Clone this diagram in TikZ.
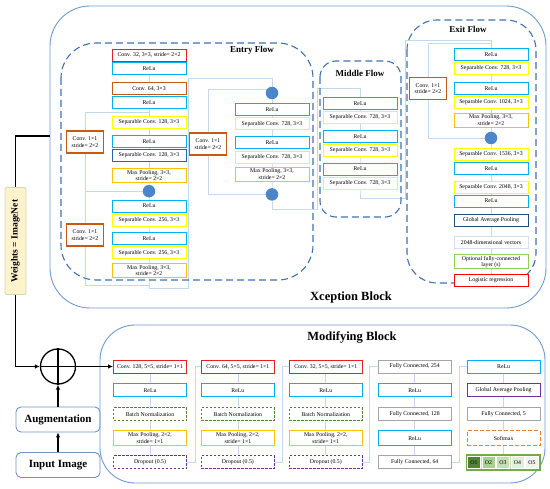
\documentclass[tikz,border=0pt]{standalone}
\usepackage{fontspec}
\setmainfont{Liberation Serif}
\usepackage{tikz}
\usetikzlibrary{arrows.meta}
\usetikzlibrary{positioning}
\usetikzlibrary{backgrounds}
\usetikzlibrary{calc}

\definecolor{reluc}{HTML}{00B0F0}
\definecolor{sepcol}{HTML}{FFFF00}
\definecolor{convred}{HTML}{E42222}
\definecolor{convorg}{HTML}{C55A11}
\definecolor{poolc}{HTML}{FFC000}
\definecolor{sepdark}{HTML}{2466B0}
\definecolor{addc}{HTML}{4A86C8}
\definecolor{skipc}{HTML}{C3D9EF}
\definecolor{flowc}{HTML}{3D72B4}
\definecolor{blkc}{HTML}{6D9BD1}
\definecolor{gapnavy}{HTML}{1F4E79}
\definecolor{vecc}{HTML}{D6DFEE}
\definecolor{optc}{HTML}{92D050}
\definecolor{bnc}{HTML}{548235}
\definecolor{dropc}{HTML}{7030A0}
\definecolor{fcc}{HTML}{A5A5A5}
\definecolor{smaxc}{HTML}{ED7D31}
\definecolor{outg}{HTML}{70AD47}
\definecolor{oa}{HTML}{548235}
\definecolor{ob}{HTML}{A9D18E}
\definecolor{oc}{HTML}{C5E0B4}
\definecolor{od}{HTML}{E2F0D9}
\definecolor{oe}{HTML}{F2F2F2}
\definecolor{wtsf}{HTML}{FFF2CC}
\definecolor{wtsb}{HTML}{C5E0B4}
\definecolor{inpc}{HTML}{7093C3}

\begin{document}
\begin{tikzpicture}[x=1pt, y=-1pt, node distance=6pt,
    lay/.style={draw, line width=0.9pt, fill=white, minimum width=74pt, minimum height=12pt,
        inner sep=0.5pt, align=center, font=\fontsize{5.8}{6.4}\selectfont},
    relu/.style={lay, draw=reluc},
    sepc/.style={lay, draw=sepcol},
    conv/.style={lay, draw=convred},
    cvo/.style={lay, draw=convorg},
    pool/.style={lay, draw=poolc, minimum height=14pt},
    side/.style={lay, draw=convorg, line width=1.1pt, minimum width=37pt, minimum height=22pt},
    m/.style={minimum width=73pt, minimum height=13pt},
    bn/.style={lay, m, draw=bnc, dash pattern=on 2.5pt off 1.5pt},
    drop/.style={lay, m, draw=dropc, dash pattern=on 2.5pt off 1.5pt},
    fc/.style={lay, m, draw=fcc},
    obox/.style={draw=white, line width=0.4pt, minimum width=13.2pt, minimum height=12pt,
        inner sep=0pt, font=\fontsize{5.8}{6.4}\selectfont},
    add/.style={circle, fill=addc, minimum size=12.5pt, inner sep=0pt},
    skip/.style={draw=skipc, line width=0.7pt},
    flow/.style={draw=flowc, line width=1.1pt, dash pattern=on 7pt off 4pt},
    blk/.style={draw=blkc, line width=0.9pt},
    ttl/.style={font=\fontsize{9}{10}\selectfont\bfseries},
    big/.style={font=\fontsize{12.5}{14}\selectfont\bfseries},
    wts/.style={draw=wtsb, fill=wtsf, rounded corners=2pt, line width=0.9pt, rotate=90,
        minimum width=107pt, minimum height=21pt, font=\fontsize{9.5}{10}\selectfont\bfseries},
    inp/.style={draw=inpc, rounded corners=5pt, line width=0.9pt, minimum width=84pt,
        minimum height=25pt, font=\fontsize{11}{12}\selectfont\bfseries},
    plus/.style={circle, draw, line width=1.3pt, minimum size=35pt, inner sep=0pt},
    thk/.style={line width=1.4pt}]
    \useasboundingbox (0,0) rectangle (550,489);

    % frames
    \draw [blk, rounded corners=40pt] (50,6) rectangle (546,308);
    \draw [flow, rounded corners=35pt] (61,43) rectangle (313,280);
    \draw [flow, rounded corners=16pt] (320,61) rectangle (401,217);
    \draw [flow, rounded corners=30pt] (407,20) rectangle (536,283);
    \draw [blk, rounded corners=35pt] (100,325) rectangle (545,483);

    \node [ttl] (tentry) at (252,50) {Entry Flow};
    \node [ttl] (tmid) at (360,73) {Middle Flow};
    \node [ttl] (texit) at (468,29) {Exit Flow};
    \node [big] (txcep) at (351,297) {Xception Block};
    \node [big] (tmod) at (352,337) {Modifying Block};

    % entry flow
    \node [conv] (e1) at (149,55) {Conv. 32, 3×3, stride= 2×2};
    \node [relu] (e2) [below=1pt of e1] {ReLu};
    \node [cvo] (e3) [below=7pt of e2] {Conv. 64, 3×3};
    \node [relu] (e4) [below=1pt of e3] {ReLu};
    \node [sepc] (e5) [below=7pt of e4] {Separable Conv. 128, 3×3};
    \node [relu] (e6) [below=6pt of e5] {ReLu};
    \node [lay, draw=sepdark] (e7) [below=1pt of e6] {Separable Conv. 128, 3×3};
    \node [pool] (e8) [below=6pt of e7] {Max Pooling, 3×3,\\stride= 2×2};
    \node [add] (a1) [below=2pt of e8] {};
    \node [relu] (e9) [below=2pt of a1] {ReLu};
    \node [sepc] (e10) [below=1.5pt of e9] {Separable Conv. 256, 3×3};
    \node [relu] (e11) [below=5pt of e10] {ReLu};
    \node [sepc] (e12) [below=1.5pt of e11] {Separable Conv. 256, 3×3};
    \node [pool] (e13) [below=4pt of e12] {Max Pooling, 3×3,\\stride= 2×2};

    \node [side] (s1) at (85,142) {Conv. 1×1\\stride= 2×2};
    \node [side] (s2) at (85,235) {Conv. 1×1\\stride= 2×2};
    \node [side] (s3) at (208,144) {Conv. 1×1\\stride= 2×2};
    \node [side] (s4) at (428,88.5) {Conv. 1×1\\stride= 2×2};

    \node [add] (a2) at (272,93) {};
    \node [relu] (f1) [below=4pt of a2] {ReLu};
    \node [sepc] (f2) [below=1pt of f1] {Separable Conv. 728, 3×3};
    \node [relu] (f3) [below=6pt of f2] {ReLu};
    \node [sepc] (f4) [below=1.5pt of f3] {Separable Conv. 728, 3×3};
    \node [pool] (f5) [below=3pt of f4] {Max Pooling, 3×3,\\stride= 2×2};
    \node [add] (a3) [below=6.5pt of f5] {};

    % middle flow
    \node [relu] (m1) at (360,103.5) {ReLu};
    \node [sepc] (m2) [below=1pt of m1] {Separable Conv. 728, 3×3};
    \node [relu] (m3) [below=6pt of m2] {ReLu};
    \node [sepc] (m4) [below=1pt of m3] {Separable Conv. 728, 3×3};
    \node [relu] (m5) [below=6pt of m4] {ReLu};
    \node [sepc] (m6) [below=1pt of m5] {Separable Conv. 728, 3×3};

    % exit flow
    \node [relu] (x1) at (491,54.5) {ReLu};
    \node [sepc] (x2) [below=1pt of x1] {Separable Conv. 728, 3×3};
    \node [relu] (x3) [below=7pt of x2] {ReLu};
    \node [sepc] (x4) [below=1pt of x3] {Separable Conv. 1024, 3×3};
    \node [pool] (x5) [below=4pt of x4] {Max Pooling, 3×3,\\stride= 2×2};
    \node [add] (a4) [below=4pt of x5] {};
    \node [sepc] (x6) [below=3.5pt of a4] {Separable Conv. 1536, 3×3};
    \node [relu] (x7) [below=1pt of x6] {ReLu};
    \node [sepc] (x8) [below=6pt of x7] {Separable Conv. 2048, 3×3};
    \node [relu] (x9) [below=1pt of x8] {ReLu};
    \node [lay, draw=gapnavy] (x10) [below=6pt of x9] {Global Average Pooling};
    \node [lay, draw=vecc] (x11) [below=10pt of x10] {2048-dimensional vectors};
    \node [lay, draw=optc, minimum height=14pt] (x12) [below=5pt of x11] {Optional fully-connected\\layer (s)};
    \node [lay, draw=red] (x13) [below=5pt of x12] {Logistic regression};

    % modifying block
    \node [conv, m] (c1) at (150,366.5) {Conv. 128, 5×5, stride= 1×1};
    \node [relu, m] (c2) [below=10pt of c1] {ReLu};
    \node [bn] (c3) [below=10pt of c2] {Batch Normalization};
    \node [pool, m, minimum height=15pt] (c4) [below=9pt of c3] {Max Pooling, 2×2,\\stride= 1×1};
    \node [drop] (c5) [below=9pt of c4] {Dropout (0.5)};

    \node [conv, m] (d1) [right=14pt of c1] {Conv. 64, 5×5, stride= 1×1};
    \node [relu, m] (d2) [below=10pt of d1] {ReLu};
    \node [bn] (d3) [below=10pt of d2] {Batch Normalization};
    \node [pool, m, minimum height=15pt] (d4) [below=9pt of d3] {Max Pooling, 2×2,\\stride= 1×1};
    \node [drop] (d5) [below=9pt of d4] {Dropout (0.5)};

    \node [conv, m] (g1) [right=14pt of d1] {Conv. 32, 5×5, stride= 1×1};
    \node [relu, m] (g2) [below=10pt of g1] {ReLu};
    \node [bn] (g3) [below=10pt of g2] {Batch Normalization};
    \node [pool, m, minimum height=15pt] (g4) [below=9pt of g3] {Max Pooling, 2×2,\\stride= 1×1};
    \node [drop] (g5) [below=9pt of g4] {Dropout (0.5)};

    \node [fc] (h1) [right=15pt of g1] {Fully Connected, 254};
    \node [relu, m] (h2) [below=10pt of h1] {ReLu};
    \node [fc] (h3) [below=10pt of h2] {Fully Connected, 128};
    \node [relu, m, minimum height=15pt] (h4) [below=9pt of h3] {ReLu};
    \node [fc] (h5) [below=9pt of h4] {Fully Connected, 64};

    \node [relu, m] (k1) [right=15pt of h1] {ReLu};
    \node [lay, m, draw=dropc] (k2) [below=10pt of k1] {Global Average Pooling};
    \node [fc] (k3) [below=10pt of k2] {Fully Connected, 5};
    \node [lay, m, draw=smaxc, minimum height=15pt, dash pattern=on 4pt off 2pt] (k4) [below=9pt of k3] {Softmax};
    \node [lay, m, draw=outg, fill=oc, line width=1.4pt, minimum height=15pt] (k5) [below=8pt of k4] {};
    \node [obox, fill=oa] (o1) at ($(k5.west)+(7.6,0)$) {O1};
    \node [obox, fill=ob] (o2) [right=0.9pt of o1] {O2};
    \node [obox, fill=oc] (o3) [right=0.9pt of o2] {O3};
    \node [obox, fill=od] (o4) [right=0.9pt of o3] {O4};
    \node [obox, fill=oe] (o5) [right=0.9pt of o4] {O5};

    % inputs
    \coordinate (wt) at (50,136);
    \coordinate (j1) at (188,78);
    \coordinate (j2) at (317,88);
    \coordinate (j3) at (405,40);
    \node [wts] (w) at (15.5,241) {Weights = ImageNet};
    \node [plus] (p) at (58,366.5) {};
    \node [inp] (aug) at (58,419.5) {Augmentation};
    \node [inp] (img) at (58,465) {Input Image};

    \draw [thk] (wt) -| (w);
    \draw [thk, -{Latex[length=5pt,width=4.5pt]}] (w) |- (p);
    \draw [thk, -{Latex[length=5pt,width=4.5pt]}] (p) -- (c1);
    \draw [thk, -{Latex[length=5pt,width=4.5pt]}] (img) -- (aug);
    \draw [thk, -{Latex[length=5pt,width=4.5pt]}] (aug) -- (p);
    \draw [thk] (p.north) -- (p.south) (p.west) -- (p.east);

    \begin{scope}[on background layer]
        \draw [skip] (e1) -- (e13.south) -- ++(0,10) -| (j1) -| (a2);
        \draw [skip] ($(e4.south)!0.5!(e5.north)$) -| (s1) -- (s2) |- ($(e13.south)+(0,7)$);
        \draw [skip] (s1) |- (a1);
        \draw [skip] (a2) -- (a3.center) -- ++(0,15) -| (j2) -| (m1);
        \draw [skip] ($(a2)+(0,-4)$) -| (s3) |- (a3);
        \draw [skip] (m1) -- (m6.south) -- ++(0,9) -| (j3) -| (x1);
        \draw [skip] ($(x1.north)+(0,-4.5)$) -| (s4) |- (a4);
        \draw [skip] (x1) -- (x13);
        \draw [skip] (c1) -- (c5);
        \draw [skip] (d1) -- (d5);
        \draw [skip] (g1) -- (g5);
        \draw [skip] (h1) -- (h5);
        \draw [skip] (k1) -- (k5);
        \draw [skip] (c5.east) -- ++(8,0) |- (d1);
        \draw [skip] (d5.east) -- ++(7,0) |- (g1);
        \draw [skip] (g5.east) -- ++(7,0) |- (h1);
        \draw [skip] (h5.east) -- ++(8,0) |- (k1);
    \end{scope}
\end{tikzpicture}
\end{document}
